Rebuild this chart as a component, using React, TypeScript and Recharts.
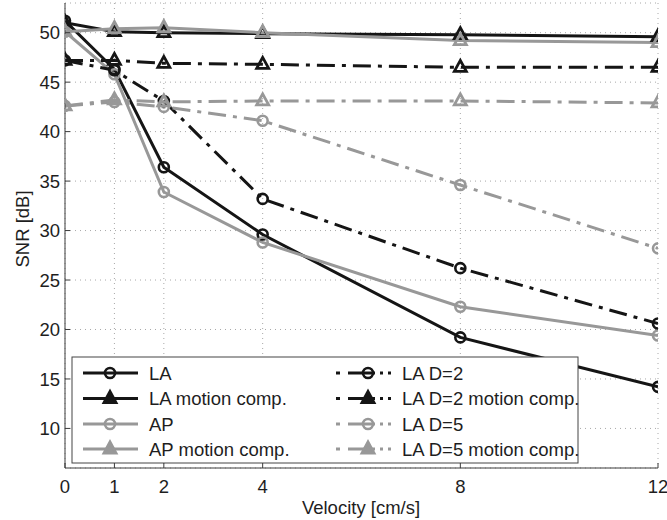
import React from 'react';
import { LineChart, Line, XAxis, YAxis, CartesianGrid } from 'recharts';

// Velocity categories (cm/s)
const velocities = [0, 1, 2, 4, 8, 12];

// SNR values [dB] per series
const la = [51.2, 46.3, 36.4, 29.6, 19.2, 14.2];
const laMotion = [51.0, 50.1, 50.0, 49.9, 49.8, 49.6];
const ap = [50.1, 45.8, 33.9, 28.8, 22.3, 19.4];
const apMotion = [50.1, 50.4, 50.5, 50.0, 49.2, 49.0];
const laD2 = [47.2, 46.2, 43.1, 33.2, 26.2, 20.6];
const laD2Motion = [47.2, 47.2, 46.9, 46.8, 46.5, 46.5];
const laD5 = [42.6, 43.0, 42.5, 41.1, 34.6, 28.2];
const laD5Motion = [42.6, 43.2, 43.0, 43.1, 43.1, 42.9];

const xTicks = [0, 1, 2, 4, 8, 12];
const yTicks = [10, 15, 20, 25, 30, 35, 40, 45, 50];

const BLACK = '#151515';
const GRAY = '#989898';
const DASHDOT = '18 7 4 7';
const FONT = "'Liberation Sans', Arial, Helvetica, sans-serif";
const TEXT = '#1e1e1e';
const AXIS = '#3a3a3a';

type Marker = 'circle' | 'triangle';
interface SeriesDef {
  key: string;
  name: string;
  values: number[];
  color: string;
  dash?: string;
  marker: Marker;
}

const seriesDefs: SeriesDef[] = [
  { key: 'la', name: 'LA', values: la, color: BLACK, marker: 'circle' },
  { key: 'laMotion', name: 'LA motion comp.', values: laMotion, color: BLACK, marker: 'triangle' },
  { key: 'ap', name: 'AP', values: ap, color: GRAY, marker: 'circle' },
  { key: 'apMotion', name: 'AP motion comp.', values: apMotion, color: GRAY, marker: 'triangle' },
  { key: 'laD2', name: 'LA D=2', values: laD2, color: BLACK, dash: DASHDOT, marker: 'circle' },
  { key: 'laD2Motion', name: 'LA D=2 motion comp.', values: laD2Motion, color: BLACK, dash: DASHDOT, marker: 'triangle' },
  { key: 'laD5', name: 'LA D=5', values: laD5, color: GRAY, dash: DASHDOT, marker: 'circle' },
  { key: 'laD5Motion', name: 'LA D=5 motion comp.', values: laD5Motion, color: GRAY, dash: DASHDOT, marker: 'triangle' },
];

const data = velocities.map((v, i) => {
  const row: Record<string, number> = { v };
  seriesDefs.forEach((s) => {
    row[s.key] = s.values[i];
  });
  return row;
});

const markerShape = (marker: Marker, color: string, cx: number, cy: number, key?: any, filled = false) => {
  if (marker === 'circle') {
    return <circle key={key} cx={cx} cy={cy} r={5} fill="none" stroke={color} strokeWidth={2.6} />;
  }
  return (
    <path
      key={key}
      d={`M${cx},${cy - 7} L${cx + 6},${cy + 4} L${cx - 6},${cy + 4} Z`}
      fill={filled ? color : 'none'}
      stroke={color}
      strokeWidth={2.8}
      strokeLinejoin="miter"
    />
  );
};

const makeDot = (marker: Marker, color: string) => (props: any) => {
  const { cx, cy, index } = props;
  if (cx == null || cy == null) return <g key={`d${index}`} />;
  return markerShape(marker, color, cx, cy, `d${index}`);
};

const YTick = (props: any) => {
  const { x, y, payload } = props;
  return (
    <g>
      <line x1={x} x2={x + 5} y1={y} y2={y} stroke={AXIS} strokeWidth={1} />
      <text x={x - 5} y={y} dy="0.36em" textAnchor="end" fontSize={18.5} fill={TEXT} fontFamily={FONT}>
        {payload.value}
      </text>
    </g>
  );
};

const XTick = (props: any) => {
  const { x, y, payload } = props;
  return (
    <g>
      <line x1={x} x2={x} y1={y} y2={y - 5} stroke={AXIS} strokeWidth={1} />
      <text x={x} y={y + 25} textAnchor="middle" fontSize={18.5} fill={TEXT} fontFamily={FONT}>
        {payload.value}
      </text>
    </g>
  );
};

const LegendOverlay = () => {
  const boxX = 72;
  const boxY = 357;
  const rowYs = [373, 398.5, 424, 449];
  const cols = [
    { lineX1: 83, lineX2: 138, markX: 110, textX: 149 },
    { lineX1: 336, lineX2: 391, markX: 368, textX: 402 },
  ];
  return (
    <g>
      <rect x={boxX} y={boxY} width={506} height={106} fill="#fff" stroke="#444" strokeWidth={1} />
      {seriesDefs.map((s, i) => {
        const col = cols[Math.floor(i / 4)];
        const y = rowYs[i % 4];
        return (
          <g key={s.key}>
            <line
              x1={col.lineX1}
              x2={col.lineX2}
              y1={y}
              y2={y}
              stroke={s.color}
              strokeWidth={3}
              strokeDasharray={s.dash ? '4 8 27 5 3 5 3' : undefined}
            />
            {markerShape(s.marker, s.color, col.markX, y, undefined, true)}
            <text x={col.textX} y={y + 6.5} fontSize={18.5} fill={TEXT} fontFamily={FONT}>
              {s.name}
            </text>
          </g>
        );
      })}
    </g>
  );
};

export default function App() {
  return (
    <div style={{ position: 'absolute', left: 0, top: 0, width: 667, height: 520, background: '#fff' }}>
      <LineChart
        width={667}
        height={520}
        data={data}
        margin={{ top: 3, right: 9, bottom: 0, left: 0 }}
      >
        <CartesianGrid stroke="#a8a8a8" strokeDasharray="1 4" />
        <XAxis
          dataKey="v"
          type="number"
          domain={[0, 12]}
          ticks={xTicks}
          interval={0}
          height={52}
          tickSize={0}
          tickMargin={0}
          tickLine={false}
          axisLine={{ stroke: AXIS, strokeWidth: 1 }}
          tick={<XTick />}
          allowDataOverflow
        />
        <YAxis
          type="number"
          domain={[6, 53]}
          ticks={yTicks}
          interval={0}
          width={65}
          tickSize={0}
          tickMargin={0}
          tickLine={false}
          axisLine={{ stroke: AXIS, strokeWidth: 1 }}
          tick={<YTick />}
          allowDataOverflow
        />
        {seriesDefs.map((s) => (
          <Line
            key={s.key}
            dataKey={s.key}
            name={s.name}
            type="linear"
            stroke={s.color}
            strokeWidth={3}
            strokeDasharray={s.dash}
            dot={makeDot(s.marker, s.color)}
            activeDot={false}
            isAnimationActive={false}
          />
        ))}
      </LineChart>
      <svg
        width={667}
        height={520}
        style={{ position: 'absolute', left: 0, top: 0, pointerEvents: 'none' }}
      >
        <LegendOverlay />
        <text
          transform="translate(28.5,229) rotate(-90)"
          textAnchor="middle"
          fontSize={18.5}
          fill={TEXT}
          fontFamily={FONT}
        >
          SNR [dB]
        </text>
        <text x={361} y={514} textAnchor="middle" fontSize={18.5} fill={TEXT} fontFamily={FONT}>
          Velocity [cm/s]
        </text>
      </svg>
    </div>
  );
}
